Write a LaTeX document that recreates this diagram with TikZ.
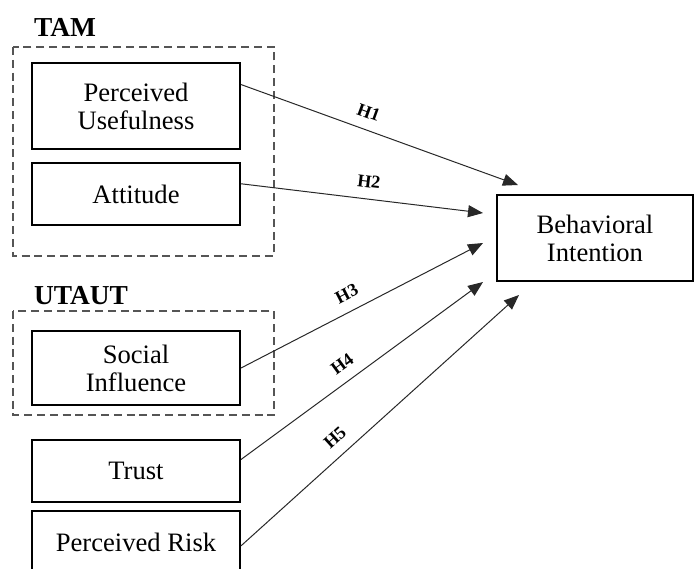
\documentclass[tikz,border=0pt]{standalone}
\usepackage{fontspec}
\setmainfont{Liberation Serif}
\usetikzlibrary{arrows.meta,calc,positioning}
\definecolor{grp}{RGB}{85,85,85}
\definecolor{lnk}{RGB}{40,40,40}
\tikzset{
  construct/.style={rectangle,draw=black,line width=1pt,fill=white,
    minimum width=104pt,align=center,inner sep=2pt,
    font=\fontsize{13.3}{14}\selectfont},
  % dashed frames round the model groups
  group/.style={draw=grp,line width=0.8pt,dash pattern=on 4pt off 2.4pt},
  grouplab/.style={font=\bfseries\fontsize{13.7}{15}\selectfont,inner sep=0pt},
  hyp/.style={-{Triangle[length=7.5pt,width=6pt]},draw=lnk,line width=0.5pt},
  hyplab/.style={sloped,above=5.5pt,inner sep=0pt,
    font=\bfseries\fontsize{9}{10}\selectfont}
}
\begin{document}
\begin{tikzpicture}[x=0.5pt,y=-0.5pt]
  \useasboundingbox (0,0) rectangle (694,568);
  \clip (0,0) rectangle (694,568);
  % groups
  \draw[group] (13,47) rectangle (274,256);
  \draw[group] (13,311) rectangle (274,415);
  \node[grouplab] (tam) at (65,27) {TAM};
  \node[grouplab] (utaut) at (81,296) {UTAUT};
  % constructs
  \node[construct,minimum height=43pt] (pu) at (136,106) {Perceived\\Usefulness};
  \node[construct,minimum height=31pt] (att) at (136,194) {Attitude};
  \node[construct,minimum height=37pt] (si) at (136,368) {Social\\Influence};
  \node[construct,minimum height=31pt] (trust) at (136,471) {Trust};
  \node[construct,minimum height=31pt] (risk) at (136,542) {Perceived Risk};
  \node[construct,minimum width=98pt,minimum height=43pt] (bi) at (595,238) {Behavioral\\Intention};
  % arrow ends next to the outcome box
  \coordinate (e1) at (518,185);
  \coordinate (e2) at (483,213);
  \coordinate (e3) at (483,243);
  \coordinate (e4) at (483,282);
  \coordinate (e5) at (519,295);
  \draw[hyp] ($(pu.north east)!0.256!(pu.south east)$) -- (e1)
    node[hyplab,pos=0.44] {H1};
  \draw[hyp] ($(att.north east)!0.34!(att.south east)$) -- (e2)
    node[hyplab,pos=0.52] {H2};
  \draw[hyp] (si.east) -- (e3)
    node[hyplab,pos=0.47] {H3};
  \draw[hyp] ($(trust.north east)!0.32!(trust.south east)$) -- (e4)
    node[hyplab,pos=0.46] {H4};
  \draw[hyp] ($(risk.north east)!0.56!(risk.south east)$) -- (e5)
    node[hyplab,pos=0.38] {H5};
\end{tikzpicture}
\end{document}
